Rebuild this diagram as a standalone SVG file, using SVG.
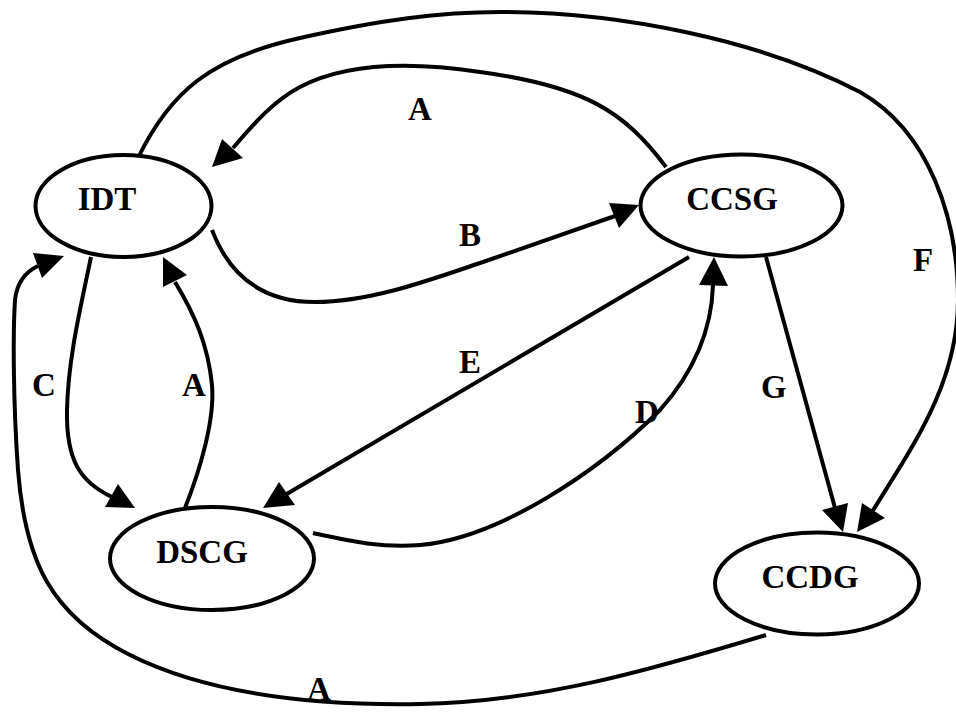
<svg xmlns="http://www.w3.org/2000/svg" width="956" height="713" viewBox="0 0 956 713">
<style>
.node ellipse{fill:#fff;stroke:#000;stroke-width:4}
text{font-family:"Liberation Serif","Times New Roman",serif;font-weight:bold;font-size:33px;fill:#000}
.nt{text-anchor:middle}
.edge path,.edge line{fill:none;stroke:#000;stroke-width:4}
.edge polygon{fill:#000;stroke:none}
</style>
<rect width="956" height="713" fill="#fff"/>
<g id="connectors" class="edge">
  <!-- F: IDT -> CCDG -->
  <path d="M 138,158 C 170,92 210,58 300,38 C 380,20 440,12 500,12 C 620,12 760,40 860,92 C 930,132 958,220 958,300 C 958,385 910,450 872,512"/>
  <polygon points="857,532 862,503 885,518"/>
  <!-- A: CCSG -> IDT -->
  <path d="M 666,167 C 625,112 585,86 480,72 C 400,60 340,66 300,87 C 275,100 255,122 233,148"/>
  <polygon points="212,167 222,139 243,158"/>
  <!-- B: IDT -> CCSG -->
  <path d="M 212,230 C 228,272 258,302 315,302 C 370,302 430,280 480,263 C 530,246 580,228 615,216"/>
  <polygon points="639,205 609,203 619,228"/>
  <!-- E: CCSG -> DSCG -->
  <line x1="689" y1="257" x2="285" y2="495"/>
  <polygon points="263,508 279,482 295,505"/>
  <!-- D: DSCG -> CCSG -->
  <path d="M 313,533 C 350,541 380,548 420,545 C 500,538 600,470 660,410 C 700,365 712,320 713,285"/>
  <polygon points="714,257 699,285 728,286"/>
  <!-- G: CCSG -> CCDG -->
  <line x1="766" y1="257" x2="835" y2="508"/>
  <polygon points="843,532 822,510 848,503"/>
  <!-- C: IDT -> DSCG -->
  <path d="M 91,257 C 80,310 68,360 67,410 C 66,460 80,482 112,497"/>
  <polygon points="135,508 105,507 118,484"/>
  <!-- A: DSCG -> IDT -->
  <path d="M 185,508 C 200,470 215,420 212,385 C 208,345 195,315 175,282"/>
  <polygon points="163,257 163,287 187,275"/>
  <!-- A: CCDG -> IDT -->
  <path d="M 766,635 C 650,670 540,702 420,704 C 300,706 200,690 130,655 C 50,615 25,560 18,470 C 13,400 13,330 15,300 C 17,282 25,272 38,266"/>
  <polygon points="64,256 33,253 42,278"/>
</g>
<g id="IDT" class="node"><ellipse cx="123.5" cy="206" rx="88" ry="51"/><text class="nt" x="107" y="210">IDT</text></g>
<g id="CCSG" class="node"><ellipse cx="741.5" cy="205.5" rx="101" ry="51"/><text class="nt" x="732" y="210">CCSG</text></g>
<g id="DSCG" class="node"><ellipse cx="212" cy="558.5" rx="102" ry="51.5"/><text class="nt" x="202" y="563">DSCG</text></g>
<g id="CCDG" class="node"><ellipse cx="817" cy="583.5" rx="102" ry="51"/><text class="nt" x="810" y="588">CCDG</text></g>
<g id="labels">
  <text x="408" y="120">A</text>
  <text x="459" y="246">B</text>
  <text x="913" y="271">F</text>
  <text x="32" y="396">C</text>
  <text x="182" y="396">A</text>
  <text x="459" y="373">E</text>
  <text x="635" y="423">D</text>
  <text x="761" y="398">G</text>
  <text x="307" y="700">A</text>
</g>
</svg>
